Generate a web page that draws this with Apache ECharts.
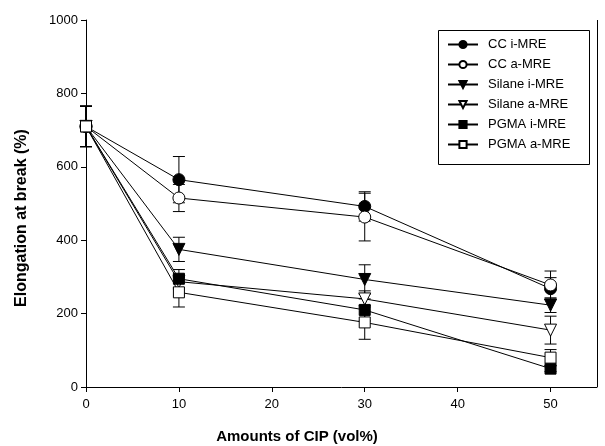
<!DOCTYPE html>
<html>
<head>
<meta charset="utf-8">
<script src="https://cdn.jsdelivr.net/npm/echarts@6/dist/echarts.min.js"></script>
<style>
  html, body { margin: 0; padding: 0; background: #fff; }
  #chart { width: 605px; height: 446px; }
</style>
</head>
<body>
<div id="chart"></div>
<script>
// CIP content (vol%)
const cipAmounts = [0, 10, 30, 50];
const xTicks = [0, 10, 20, 30, 40, 50];
const yTicks = [0, 200, 400, 600, 800, 1000];

// Elongation at break (%) and standard deviations
const ccI = [710, 565, 492, 268];
const ccIErr = [55, 63, 40, 30];
const ccA = [710, 515, 463, 278];
const ccAErr = [55, 37, 65, 38];
const silaneI = [710, 375, 293, 223];
const silaneIErr = [55, 33, 40, 20];
const silaneA = [710, 287, 240, 155];
const silaneAErr = [55, 20, 22, 38];
const pgmaI = [710, 295, 210, 50];
const pgmaIErr = [55, 25, 30, 8];
const pgmaA = [710, 258, 176, 80];
const pgmaAErr = [55, 40, 46, 22];

const seriesDefs = [
  { name: 'CC i-MRE', values: ccI, err: ccIErr, symbol: 'circle', size: 12, fill: '#000' },
  { name: 'CC a-MRE', values: ccA, err: ccAErr, symbol: 'circle', size: 12, fill: '#fff' },
  { name: 'Silane i-MRE', values: silaneI, err: silaneIErr, symbol: 'path://M0,0 L10,0 L5,9 Z', size: 12, fill: '#000' },
  { name: 'Silane a-MRE', values: silaneA, err: silaneAErr, symbol: 'path://M0,0 L10,0 L5,9 Z', size: 12, fill: '#fff' },
  { name: 'PGMA i-MRE', values: pgmaI, err: pgmaIErr, symbol: 'rect', size: 11, fill: '#000' },
  { name: 'PGMA a-MRE', values: pgmaA, err: pgmaAErr, symbol: 'rect', size: 11, fill: '#fff' }
];

const chart = echarts.init(document.getElementById('chart'), null, { renderer: 'canvas' });

const series = [];
// error bars with caps
seriesDefs.forEach(function (d) {
  series.push({
    type: 'custom',
    silent: true,
    z: 1,
    data: cipAmounts.map(function (x, i) { return [x, d.values[i] - d.err[i], d.values[i] + d.err[i]]; }),
    renderItem: function (params, api) {
      const lo = api.coord([api.value(0), api.value(1)]);
      const hi = api.coord([api.value(0), api.value(2)]);
      const half = 6;
      const style = { stroke: '#000', lineWidth: 1 };
      return {
        type: 'group',
        children: [
          { type: 'line', shape: { x1: lo[0], y1: lo[1], x2: hi[0], y2: hi[1] }, style: style },
          { type: 'line', shape: { x1: lo[0] - half, y1: lo[1], x2: lo[0] + half, y2: lo[1] }, style: style },
          { type: 'line', shape: { x1: hi[0] - half, y1: hi[1], x2: hi[0] + half, y2: hi[1] }, style: style }
        ]
      };
    }
  });
});
// lines with markers
seriesDefs.forEach(function (d) {
  series.push({
    name: d.name,
    type: 'line',
    z: 3,
    data: cipAmounts.map(function (x, i) { return [x, d.values[i]]; }),
    symbol: d.symbol,
    symbolSize: d.size,
    showAllSymbol: true,
    lineStyle: { color: '#000', width: 1 },
    itemStyle: { color: d.fill, borderColor: '#000', borderWidth: 1 },
    emphasis: { disabled: true },
    animation: false
  });
});

chart.setOption({
  animation: false,
  backgroundColor: '#fff',
  grid: { left: 86, right: 8, top: 20, bottom: 59, containLabel: false },
  xAxis: {
    type: 'value',
    min: 0,
    max: 55,
    interval: 10,
    axisLine: { show: true, lineStyle: { color: '#000', width: 1 } },
    axisTick: { show: true, length: 5, lineStyle: { color: '#000' }, customValues: xTicks },
    axisLabel: { color: '#000', fontSize: 13, fontFamily: 'Liberation Sans, Arial', margin: 11, customValues: xTicks, formatter: function (v) { return String(v); } },
    splitLine: { show: false }
  },
  yAxis: {
    type: 'value',
    min: 0,
    max: 1000,
    interval: 200,
    axisLine: { show: true, lineStyle: { color: '#000', width: 1 } },
    axisTick: { show: true, length: 5, lineStyle: { color: '#000' }, customValues: yTicks },
    axisLabel: { color: '#000', fontSize: 13, fontFamily: 'Liberation Sans, Arial', margin: 8, customValues: yTicks, formatter: function (v) { return String(v); } },
    splitLine: { show: false }
  },
  legend: {
    orient: 'vertical',
    left: 447,
    top: 37,
    padding: 0,
    itemWidth: 30,
    itemHeight: 9,
    itemGap: 5,
    textStyle: { color: '#000', fontSize: 13, fontFamily: 'Liberation Sans, Arial', padding: [0, 0, 0, 5], lineHeight: 15 },
    data: seriesDefs.map(function (d) { return d.name; })
  },
  graphic: [
    { type: 'rect', left: 436, top: 28, shape: { width: 151, height: 134 }, style: { fill: 'none', stroke: '#000', lineWidth: 1 }, z: -1 },
    { type: 'line', shape: { x1: 597.5, y1: 20, x2: 597.5, y2: 387 }, style: { stroke: '#000', lineWidth: 1 } },
    { type: 'text', x: 297, y: 437, style: { text: 'Amounts of CIP (vol%)', fill: '#000', font: 'bold 15px "Liberation Sans", Arial', textAlign: 'center', textVerticalAlign: 'middle' } },
    { type: 'text', x: 22, y: 218, rotation: Math.PI / 2, style: { text: 'Elongation at break (%)', fill: '#000', font: 'bold 16px "Liberation Sans", Arial', textAlign: 'center', textVerticalAlign: 'middle' } }
  ],
  series: series
});
</script>
</body>
</html>
